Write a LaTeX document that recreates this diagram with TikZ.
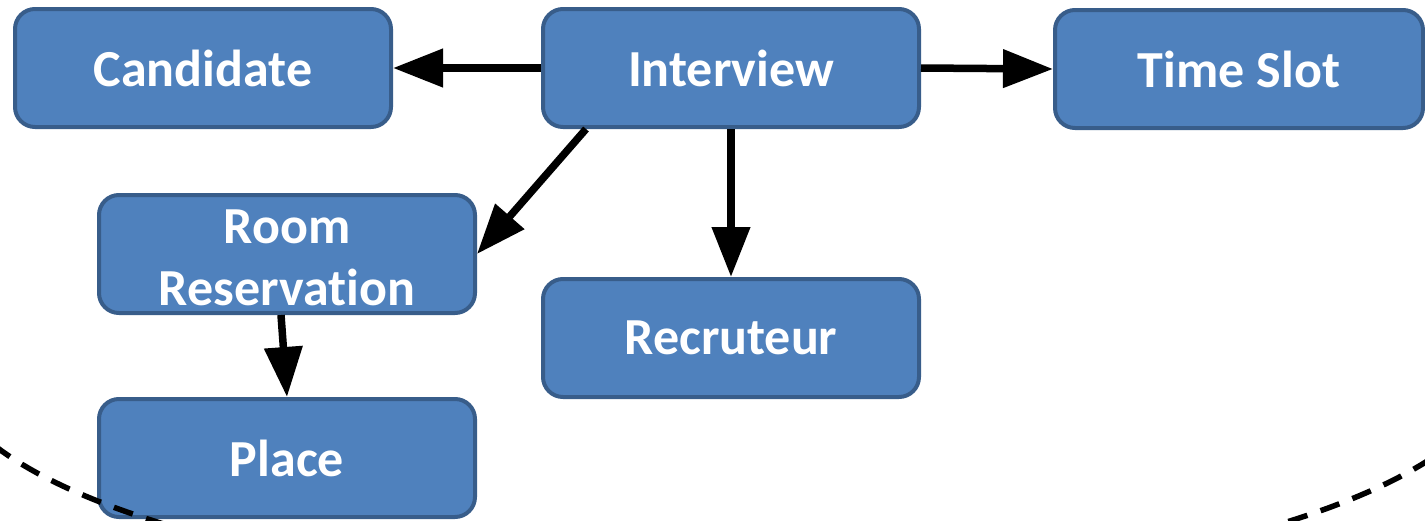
\documentclass[tikz,border=0pt]{standalone}
\usepackage{fontspec}
\setmainfont[Ligatures=NoCommon]{Carlito}
\usetikzlibrary{arrows.meta}

\definecolor{boxfill}{HTML}{4F81BD}
\definecolor{boxline}{HTML}{385D8A}

\newcommand{\lowered}[1]{\raisebox{-4pt}[\height][\depth]{#1}}

\begin{document}
\begin{tikzpicture}[x=1pt, y=-1pt,
  entity/.style={draw=boxline, fill=boxfill, line width=4pt,
    rounded corners=20pt, minimum width=376pt, minimum height=118pt,
    text=white, align=center, inner sep=0pt,
    font=\fontsize{52}{62}\selectfont\bfseries},
  link/.style={line width=7.5pt, -{Triangle[length=50pt, width=37pt]}},
  scopeline/.style={line width=5.5pt, dash pattern=on 20pt off 14pt}
]
\useasboundingbox (0,0) rectangle (1425,520);

% entities
\node[entity] (candidate) at (203,68)  {Candidate};
\node[entity] (interview) at (731,68)  {Interview};
\node[entity, minimum width=368pt] (timeslot) at (1239,69) {Time Slot};
\node[entity] (room)      at (287,254) {\lowered{Room}\\\lowered{Reservation}};
\node[entity] (recruteur) at (731,338) {Recruteur};
\node[entity] (place)     at (287,458) {Place};

% relations
\draw[link] (interview.west) -- (candidate.east);
\draw[link] (interview.east) -- (timeslot.west);
\draw[link] ([xshift=45pt]interview.south west) -- (room.east);
\draw[link] (interview.south) -- (recruteur.north);
\draw[link] ([xshift=-6pt]room.south) -- (place.north);

% dashed boundary arc
\begin{scope}
  \clip (0,0) rectangle (1425,520);
  \draw[scopeline] plot[domain=165:15, samples=120]
    ({722+780*cos(\x)}, {362+232*sin(\x)});
\end{scope}
\end{tikzpicture}
\end{document}
